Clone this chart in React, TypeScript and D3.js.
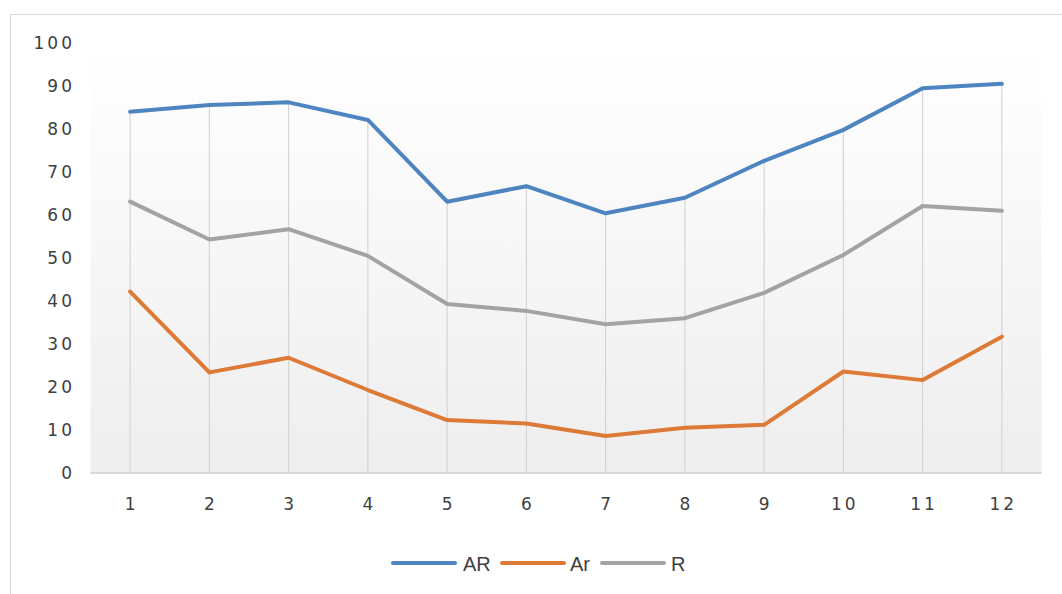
import React from "react";
import * as d3 from "d3";

const categories = ["1", "2", "3", "4", "5", "6", "7", "8", "9", "10", "11", "12"];
const seriesAR = [84.0, 85.6, 86.2, 82.1, 63.1, 66.7, 60.4, 64.0, 72.6, 79.8, 89.5, 90.5];
const seriesAr = [42.2, 23.4, 26.8, 19.3, 12.3, 11.5, 8.6, 10.5, 11.2, 23.6, 21.6, 31.7];
const seriesR = [63.1, 54.3, 56.7, 50.5, 39.3, 37.7, 34.6, 36.0, 41.9, 50.7, 62.1, 61.0];
const yTicks = [0, 10, 20, 30, 40, 50, 60, 70, 80, 90, 100];
const seriesNames = ["AR", "Ar", "R"];
const seriesColors = ["#4E84C0", "#DD7A37", "#A3A3A3"];

const W = 1062;
const H = 594;
const plot = { left: 90.5, right: 1041.5, top: 43, bottom: 473 };
const axisFont = "'DejaVu Sans', sans-serif";
const legendFont = "'Liberation Sans', Arial, sans-serif";
const textColor = "#404040";

export default function App() {
  const x = d3.scaleBand<string>().domain(categories).range([plot.left, plot.right]);
  const y = d3.scaleLinear().domain([0, 100]).range([plot.bottom, plot.top]);
  const cx = (c: string) => (x(c) ?? 0) + x.bandwidth() / 2;
  const line = d3
    .line<number>()
    .x((_, i) => cx(categories[i]))
    .y((d) => y(d));
  const allSeries = [seriesAR, seriesAr, seriesR];
  const maxAt = categories.map((_, i) => d3.max(allSeries, (s) => s[i]) ?? 0);

  const legendItems = [
    { lineX: 393, textX: 463 },
    { lineX: 502, textX: 570 },
    { lineX: 602, textX: 671 },
  ];
  const ls = 3;

  return (
    <svg
      width={W}
      height={H}
      style={{ position: "absolute", left: 0, top: 0, background: "#fff" }}
    >
      <defs>
        <linearGradient id="bg" x1="0" y1="0" x2="0" y2="1">
          <stop offset="0%" stopColor="#ffffff" />
          <stop offset="100%" stopColor="#eeeeee" />
        </linearGradient>
      </defs>
      <rect x={10.5} y={14.5} width={1080} height={620} fill="#fff" stroke="#d9d9d9" />
      <rect
        x={plot.left}
        y={plot.top}
        width={plot.right - plot.left}
        height={plot.bottom - plot.top}
        fill="url(#bg)"
      />
      {categories.map((c, i) => (
        <line
          key={"g" + c}
          x1={cx(c)}
          x2={cx(c)}
          y1={y(maxAt[i])}
          y2={plot.bottom}
          stroke="#cfcfcf"
          strokeWidth={1}
        />
      ))}
      <line
        x1={plot.left}
        x2={plot.right}
        y1={plot.bottom}
        y2={plot.bottom}
        stroke="#cfcfcf"
        strokeWidth={1.5}
      />
      {yTicks.map((t) => (
        <text
          key={"y" + t}
          x={72 + ls}
          y={y(t)}
          dy="0.36em"
          textAnchor="end"
          fontFamily={axisFont}
          fontSize={17}
          letterSpacing={ls}
          fill={textColor}
        >
          {t}
        </text>
      ))}
      {categories.map((c) => (
        <text
          key={"x" + c}
          x={cx(c) + ls / 2}
          y={503.5}
          dy="0.36em"
          textAnchor="middle"
          fontFamily={axisFont}
          fontSize={17}
          letterSpacing={ls}
          fill={textColor}
        >
          {c}
        </text>
      ))}
      {allSeries.map((s, i) => (
        <path
          key={"s" + i}
          d={line(s) ?? ""}
          fill="none"
          stroke={seriesColors[i]}
          strokeWidth={4}
          strokeLinejoin="round"
          strokeLinecap="round"
        />
      ))}
      {seriesNames.map((n, i) => (
        <g key={"l" + n}>
          <line
            x1={legendItems[i].lineX}
            x2={legendItems[i].lineX + 62}
            y1={563}
            y2={563}
            stroke={seriesColors[i]}
            strokeWidth={4}
            strokeLinecap="round"
          />
          <text
            x={legendItems[i].textX}
            y={564}
            dy="0.36em"
            fontFamily={legendFont}
            fontSize={20}
            fill={textColor}
          >
            {n}
          </text>
        </g>
      ))}
    </svg>
  );
}
